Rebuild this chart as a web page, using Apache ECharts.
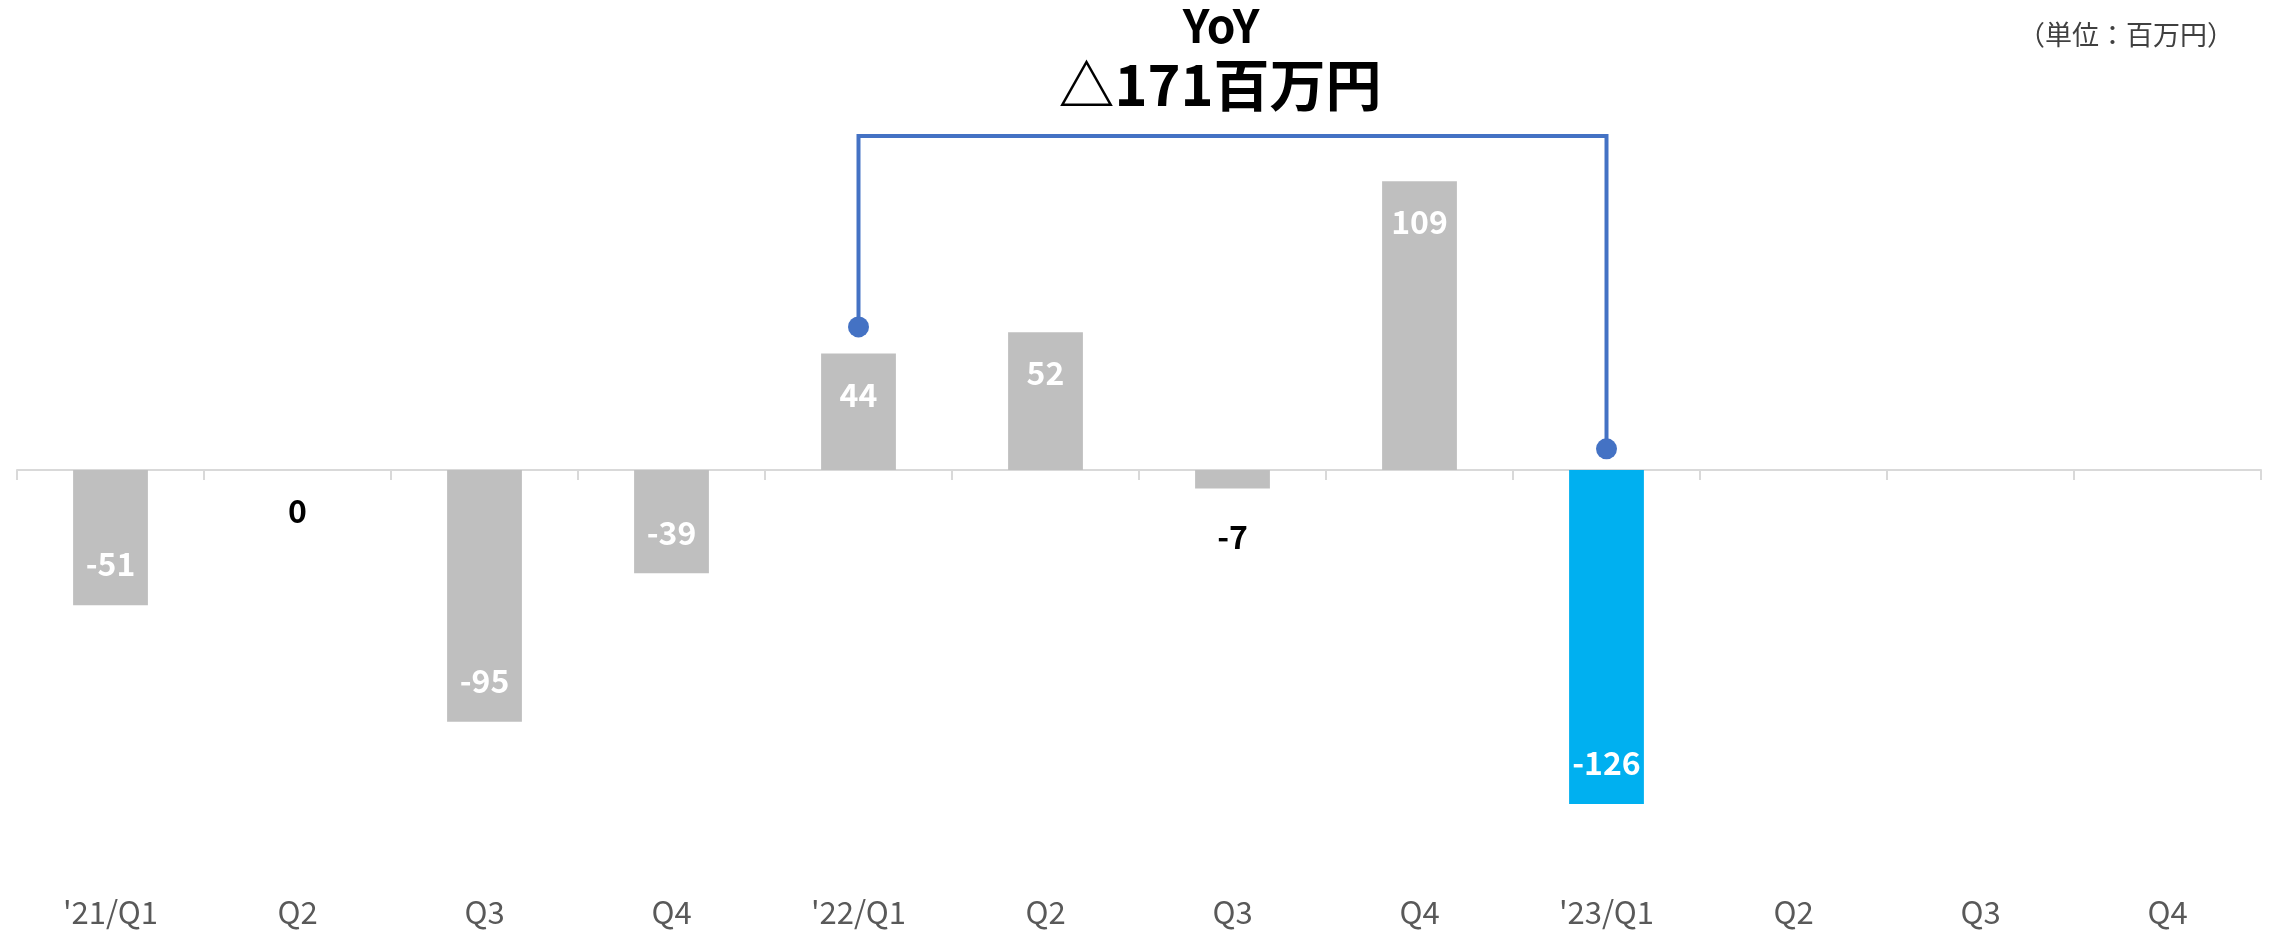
<!DOCTYPE html>
<html>
<head>
<meta charset="utf-8">
<title>営業利益 四半期推移</title>
<script src="https://cdn.jsdelivr.net/npm/echarts@6/dist/echarts.min.js"></script>
<style>
  html, body { margin: 0; padding: 0; background: #ffffff; }
  #chart { width: 2281px; height: 931px; }
</style>
</head>
<body>
<div id="chart"></div>
<script>
// Quarterly figures (百万円)
const categories = ["'21/Q1", "Q2", "Q3", "Q4", "'22/Q1", "Q2", "Q3", "Q4", "'23/Q1", "Q2", "Q3", "Q4"];
const values = [-51, 0, -95, -39, 44, 52, -7, 109, -126, null, null, null];
const currentIndex = 8;

// Year-over-year bracket: from '22/Q1 up, across, and down to '23/Q1
const bracketX = [4, 4, 8, 8];
const bracketY = [54, 126, 126, 8];

const yoyTitle = 'YoY';
const yoyValue = '△171百万円';
const unitText = '（単位：百万円）';

const FONT = '"Noto Sans CJK JP", "Noto Sans", sans-serif';
const GREY = '#bfbfbf';
const CURRENT = '#00b0f0';
const BRACKET = '#4472c4';

const barData = values.map((v, i) => {
  if (v === null) return null;
  const small = Math.abs(v) < 15;
  return {
    value: v,
    itemStyle: { color: i === currentIndex ? CURRENT : GREY },
    label: small
      ? { position: 'bottom', distance: v === 0 ? 25 : 32, color: '#000000' }
      : { position: v >= 0 ? 'insideTop' : 'insideBottom', distance: 25, color: '#ffffff' }
  };
});

const bracketData = bracketX.map((x, i) => ({
  value: [x, bracketY[i]],
  symbol: (i === 0 || i === bracketX.length - 1) ? 'circle' : 'none'
}));

const chart = echarts.init(document.getElementById('chart'), null, { renderer: 'canvas' });

chart.setOption({
  animation: false,
  backgroundColor: '#ffffff',
  grid: { left: 17, right: 20, top: 72.5, bottom: 37, containLabel: false },
  xAxis: [
    {
      type: 'category',
      data: categories,
      axisLine: { onZero: true, lineStyle: { color: '#d9d9d9', width: 2 } },
      axisTick: { show: true, length: 10, lineStyle: { color: '#d9d9d9', width: 2 } },
      axisLabel: { show: false },
      splitLine: { show: false }
    },
    {
      type: 'category',
      data: categories,
      position: 'bottom',
      axisLine: { show: false, onZero: false },
      axisTick: { show: false },
      axisLabel: {
        show: true,
        interval: 0,
        margin: 3,
        color: '#595959',
        fontFamily: FONT,
        fontSize: 31
      },
      splitLine: { show: false }
    }
  ],
  yAxis: {
    type: 'value',
    min: -160,
    max: 150,
    show: false,
    splitLine: { show: false }
  },
  series: [
    {
      type: 'bar',
      xAxisIndex: 0,
      data: barData,
      barWidth: '40%',
      label: {
        show: true,
        fontFamily: FONT,
        fontSize: 32,
        fontWeight: 'bold'
      }
    },
    {
      type: 'line',
      xAxisIndex: 0,
      data: bracketData,
      symbolSize: 21,
      lineStyle: { color: BRACKET, width: 4, join: 'miter', cap: 'square' },
      itemStyle: { color: BRACKET },
      label: { show: false },
      z: 5
    }
  ],
  graphic: [
    {
      type: 'text',
      x: 1221, y: 26,
      style: {
        text: yoyTitle, fontFamily: FONT, fontSize: 46, fontWeight: 'bold',
        fill: '#000000', align: 'center', verticalAlign: 'middle'
      }
    },
    {
      type: 'text',
      x: 1220, y: 85,
      style: {
        text: yoyValue, fontFamily: FONT, fontSize: 56, fontWeight: 'bold',
        fill: '#000000', align: 'center', verticalAlign: 'middle'
      }
    },
    {
      type: 'text',
      x: 2126, y: 35,
      style: {
        text: unitText, fontFamily: FONT, fontSize: 27,
        fill: '#404040', align: 'center', verticalAlign: 'middle'
      }
    }
  ]
});
</script>
</body>
</html>
